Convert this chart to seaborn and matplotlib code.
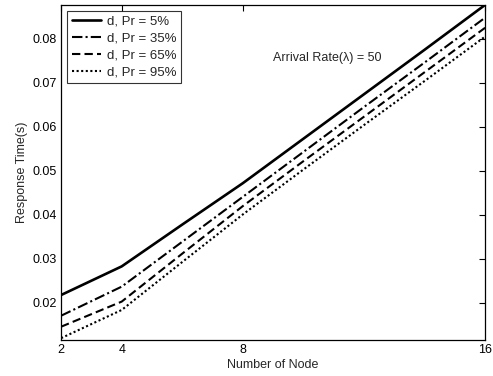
import numpy as np
import pandas as pd
import seaborn as sns
from matplotlib import pyplot as plt

# Dados
nodes = [2, 4, 6, 8, 10, 12, 14, 16]
pr_5 = [0.0218, 0.0283, 0.0378, 0.0472, 0.0573, 0.0674, 0.0775, 0.0877]
pr_35 = [0.0171, 0.0237, 0.0339, 0.0441, 0.0543, 0.0645, 0.0746, 0.0848]
pr_65 = [0.0146, 0.0203, 0.0312, 0.0420, 0.0522, 0.0623, 0.0724, 0.0825]
pr_95 = [0.0120, 0.0184, 0.0293, 0.0401, 0.0503, 0.0604, 0.0704, 0.0805]
labels = ['d, Pr = 5%', 'd, Pr = 35%', 'd, Pr = 65%', 'd, Pr = 95%']
x_ticks = [2, 4, 8, 16]
y_ticks = [0.02, 0.03, 0.04, 0.05, 0.06, 0.07, 0.08]

# Tabela longa para o seaborn
series = [pr_5, pr_35, pr_65, pr_95]
df = pd.DataFrame({
    'node': np.tile(nodes, len(series)),
    'time': np.concatenate(series),
    'serie': np.repeat(labels, len(nodes)),
})

sns.set_style('white')
plt.rcParams['font.family'] = ['Liberation Sans', 'DejaVu Sans']
plt.rcParams['font.size'] = 9

fig = plt.figure(figsize=(4.93, 3.76), dpi=100)
ax = fig.add_axes([0.124, 0.096, 0.86, 0.891])

ax = sns.lineplot(data=df, x='node', y='time', hue='serie', style='serie',
                  palette=['black'] * 4,
                  dashes=['', (5, 1.5, 1, 1.5), (4, 2), (1, 1.2)],
                  linewidth=1.5, ax=ax)
ax.lines[0].set_linewidth(1.9)

# Eixos no estilo MATLAB
ax.set_xlim(2, 16)
ax.set_ylim(0.0116, 0.0877)
ax.set_xticks(x_ticks)
ax.set_xticklabels([str(t) for t in x_ticks])
ax.set_yticks(y_ticks)
ax.set_yticklabels([f'{t:.2f}' for t in y_ticks])
ax.tick_params(direction='in', length=4, width=0.8, top=True, right=True,
               labelsize=9, colors='black', pad=3)
for spine in ax.spines.values():
    spine.set_color('black')
    spine.set_linewidth(0.9)

ax.set_xlabel('Number of Node', fontsize=9, labelpad=2)
ax.set_ylabel('Response Time(s)', fontsize=9, labelpad=3)

ax.text(9.0, 0.0757, 'Arrival Rate(λ) = 50', fontsize=9, va='center')

leg = ax.legend(loc='upper left', fontsize=9.5, frameon=True, fancybox=False,
                edgecolor='black', handlelength=2.2, handletextpad=0.5,
                borderaxespad=0.45, labelspacing=0.35, borderpad=0.35)
leg.get_frame().set_linewidth(0.8)
leg.get_lines()[0].set_linewidth(1.9)

plt.savefig('out.png', dpi=100)
plt.close()
